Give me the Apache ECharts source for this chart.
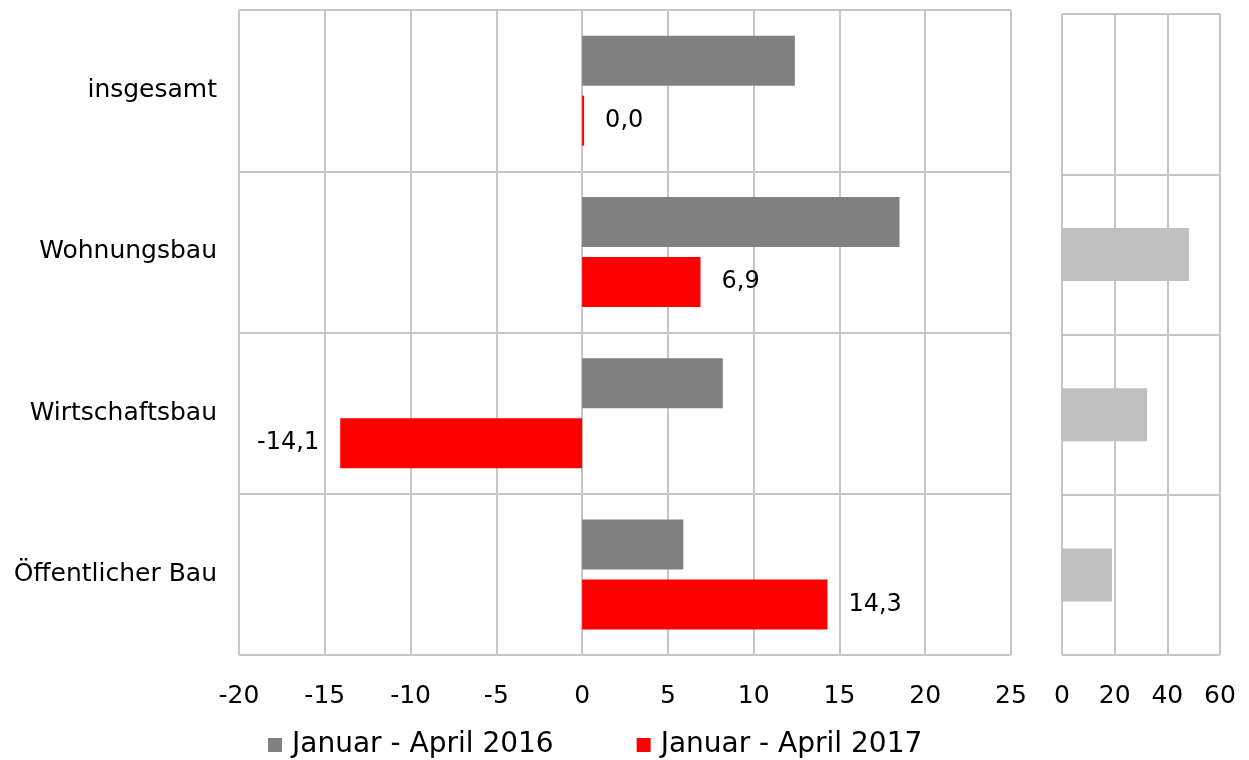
<!DOCTYPE html>
<html>
<head>
<meta charset="utf-8">
<script src="https://cdn.jsdelivr.net/npm/echarts@6/dist/echarts.min.js"></script>
<style>
  html, body { margin: 0; padding: 0; background: #fff; }
  #main { width: 1249px; height: 760px; }
</style>
</head>
<body>
<div id="main"></div>
<script>
// Kategorien und Werte
var categories = ['insgesamt', 'Wohnungsbau', 'Wirtschaftsbau', 'Öffentlicher Bau'];
var values2016 = [12.4, 18.5, 8.2, 5.9];
var values2017 = [0.0, 6.9, -14.1, 14.3];
var sideValues = [null, 48.2, 32.3, 19.0];
var mainTicks = [-20, 25, 5];
var sideTicks = [0, 60, 20];

var chart = echarts.init(document.getElementById('main'));
var gridColor = '#c6c6c6';
var fontFam = '"DejaVu Sans", sans-serif';

var fmt = function(v){
  return v.toFixed(1).replace('.', ',');
};

chart.setOption({
  animation: false,
  textStyle: { fontFamily: fontFam },
  legend: {
    left: 263,
    top: 726,
    icon: 'rect',
    itemWidth: 14,
    itemHeight: 14,
    itemGap: 83,
    textStyle: { fontSize: 28, color: '#000', fontFamily: fontFam, padding: [0, 0, 0, 5] },
    data: ['Januar - April 2016', 'Januar - April 2017']
  },
  grid: [
    { left: 239, width: 772, top: 10, height: 645 },
    { left: 1062, width: 158, top: 14, height: 641 }
  ],
  xAxis: [{
    gridIndex: 0,
    type: 'value',
    min: mainTicks[0], max: mainTicks[1], interval: mainTicks[2],
    axisLine: { show: false },
    axisTick: { show: false },
    axisLabel: { fontSize: 25, color: '#000', margin: 29 },
    splitLine: { show: true, lineStyle: { color: gridColor, width: 2 } }
  }, {
    gridIndex: 1,
    type: 'value',
    min: sideTicks[0], max: sideTicks[1], interval: sideTicks[2],
    axisLine: { show: false },
    axisTick: { show: false },
    axisLabel: { fontSize: 25, color: '#000', margin: 29 },
    splitLine: { show: true, lineStyle: { color: gridColor, width: 2 } }
  }],
  yAxis: [{
    gridIndex: 0,
    type: 'category',
    inverse: true,
    data: categories,
    axisLine: { show: false },
    axisTick: { show: false },
    axisLabel: { fontSize: 25, color: '#000', margin: 22 },
    splitLine: { show: true, lineStyle: { color: gridColor, width: 2 } }
  }, {
    gridIndex: 1,
    type: 'category',
    inverse: true,
    data: categories,
    axisLine: { show: false },
    axisTick: { show: false },
    axisLabel: { show: false },
    splitLine: { show: true, lineStyle: { color: gridColor, width: 2 } }
  }],
  series: [{
    name: 'Januar - April 2016',
    type: 'bar',
    xAxisIndex: 0, yAxisIndex: 0,
    barWidth: 50,
    barGap: '20%',
    itemStyle: { color: '#808080' },
    data: values2016
  }, {
    name: 'Januar - April 2017',
    type: 'bar',
    xAxisIndex: 0, yAxisIndex: 0,
    barWidth: 50,
    barMinHeight: 2,
    itemStyle: { color: '#ff0000' },
    label: {
      show: true,
      fontSize: 24,
      color: '#000',
      distance: 21,
      formatter: function(p){ return fmt(p.value); }
    },
    data: values2017.map(function(v){
      return { value: v, label: { position: v < 0 ? 'left' : 'right' } };
    })
  }, {
    name: 'Anteil',
    type: 'bar',
    xAxisIndex: 1, yAxisIndex: 1,
    barWidth: 53,
    itemStyle: { color: '#c0c0c0' },
    data: sideValues
  }]
});
</script>
</body>
</html>
